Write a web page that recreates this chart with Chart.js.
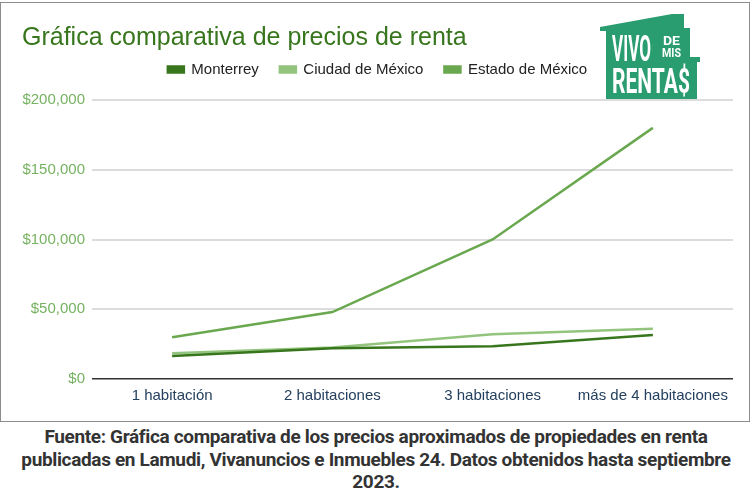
<!DOCTYPE html>
<html>
<head>
<meta charset="utf-8">
<script src="https://cdn.jsdelivr.net/npm/chart.js@4"></script>
<style>
  body { margin: 0; background: #fff; width: 752px; height: 495px; overflow: hidden; position: relative; }
  #box { position: absolute; left: 0; top: 2px; width: 748px; height: 418px; border: 1px solid #8c8c8c; }
  #logo { position: absolute; left: 596px; top: 10px; }
  #fuente { position: absolute; left: 0; top: 426px; width: 752px; text-align: center;
    font-family: Roboto, sans-serif; font-weight: 700; font-size: 19px; line-height: 22.5px;
    color: #333; letter-spacing: -0.35px; }
</style>
</head>
<body>
<div id="box"><canvas id="myChart" width="748" height="418"></canvas></div>

<svg id="logo" width="110" height="95" viewBox="596 10 110 95">
  <polygon fill="#2a9d70" points="600,27 672,14 684,14 684,28 690,28 690,57 700,57 700,62 697,62 697,99 606,99 606,31 600,31"/>
  <g fill="#fff" font-family="Roboto, sans-serif" font-weight="700">
    <text x="612" y="61" font-size="36" textLength="39" lengthAdjust="spacingAndGlyphs">VIVO</text>
    <text x="663" y="45" font-size="13" textLength="17" lengthAdjust="spacingAndGlyphs">DE</text>
    <text x="662" y="57" font-size="13" textLength="19" lengthAdjust="spacingAndGlyphs">MIS</text>
    <text x="612" y="93" font-size="35" textLength="78" lengthAdjust="spacingAndGlyphs">RENTA$</text>
  </g>
</svg>

<div id="fuente">Fuente: Gráfica comparativa de los precios aproximados de propiedades en renta<br>publicadas en Lamudi, Vivanuncios e Inmuebles 24. Datos obtenidos hasta septiembre<br>2023.</div>

<script>
'use strict'

const categories = ['1 habitación', '2 habitaciones', '3 habitaciones', 'más de 4 habitaciones'];

const monterrey = [16500, 22000, 23500, 31500];
const ciudadMexico = [18500, 22500, 32000, 36000];
const estadoMexico = [30000, 48000, 100000, 180000];

const yTicks = [0, 50000, 100000, 150000, 200000];

// extra room under the legend so the plot starts lower
const legendSpace = {
  id: 'legendSpace',
  beforeInit(chart) {
    const fit = chart.legend.fit;
    chart.legend.fit = function () {
      fit.bind(chart.legend)();
      this.height += 13;
    };
  }
};

const ctx = document.getElementById('myChart').getContext('2d');

const myChart = new Chart(ctx, {
  type: 'line',
  data: {
    labels: categories,
    datasets: [
      {
        label: 'Monterrey',
        data: monterrey,
        borderColor: '#38761d',
        backgroundColor: '#38761d',
        borderWidth: 2.5
      },
      {
        label: 'Ciudad de México',
        data: ciudadMexico,
        borderColor: '#93c47d',
        backgroundColor: '#93c47d',
        borderWidth: 2.5
      },
      {
        label: 'Estado de México',
        data: estadoMexico,
        borderColor: '#6aa84f',
        backgroundColor: '#6aa84f',
        borderWidth: 2.5
      }
    ]
  },
  plugins: [legendSpace],
  options: {
    responsive: false,
    animation: false,
    elements: { point: { radius: 0 }, line: { tension: 0 } },
    layout: { padding: { left: 21, right: 16, top: 0, bottom: 0 } },
    plugins: {
      title: {
        display: true,
        text: 'Gráfica comparativa de precios de renta',
        align: 'start',
        color: '#38761d',
        font: { family: 'Liberation Sans', size: 25, weight: 'normal' },
        padding: { top: 20, bottom: -12 }
      },
      legend: {
        position: 'top',
        labels: {
          boxWidth: 16,
          boxHeight: 6,
          padding: 21,
          color: '#222',
          font: { family: 'Liberation Sans', size: 15 }
        }
      },
      tooltip: { enabled: false }
    },
    scales: {
      x: {
        offset: true,
        grid: { display: false, drawTicks: false },
        border: { display: false },
        ticks: {
          color: '#25405e',
          padding: 8,
          maxRotation: 0,
          font: { family: 'Liberation Sans', size: 15 }
        },
        afterFit: function (scale) { scale.height = 42; }
      },
      y: {
        min: 0,
        max: 200000,
        border: { display: false },
        grid: {
          drawTicks: false,
          color: function (c) { return c.tick && c.tick.value === 0 ? '#333' : '#dcdcdc'; },
          lineWidth: function (c) { return c.tick && c.tick.value === 0 ? 1.5 : 2; }
        },
        afterBuildTicks: function (scale) {
          scale.ticks = yTicks.map(function (v) { return { value: v }; });
        },
        ticks: {
          color: '#76b261',
          padding: 7,
          font: { family: 'Liberation Sans', size: 15 },
          callback: function (v) { return '$' + Number(v).toLocaleString('en-US'); }
        },
        afterFit: function (scale) { scale.width = 70; }
      }
    }
  }
});
</script>
</body>
</html>
